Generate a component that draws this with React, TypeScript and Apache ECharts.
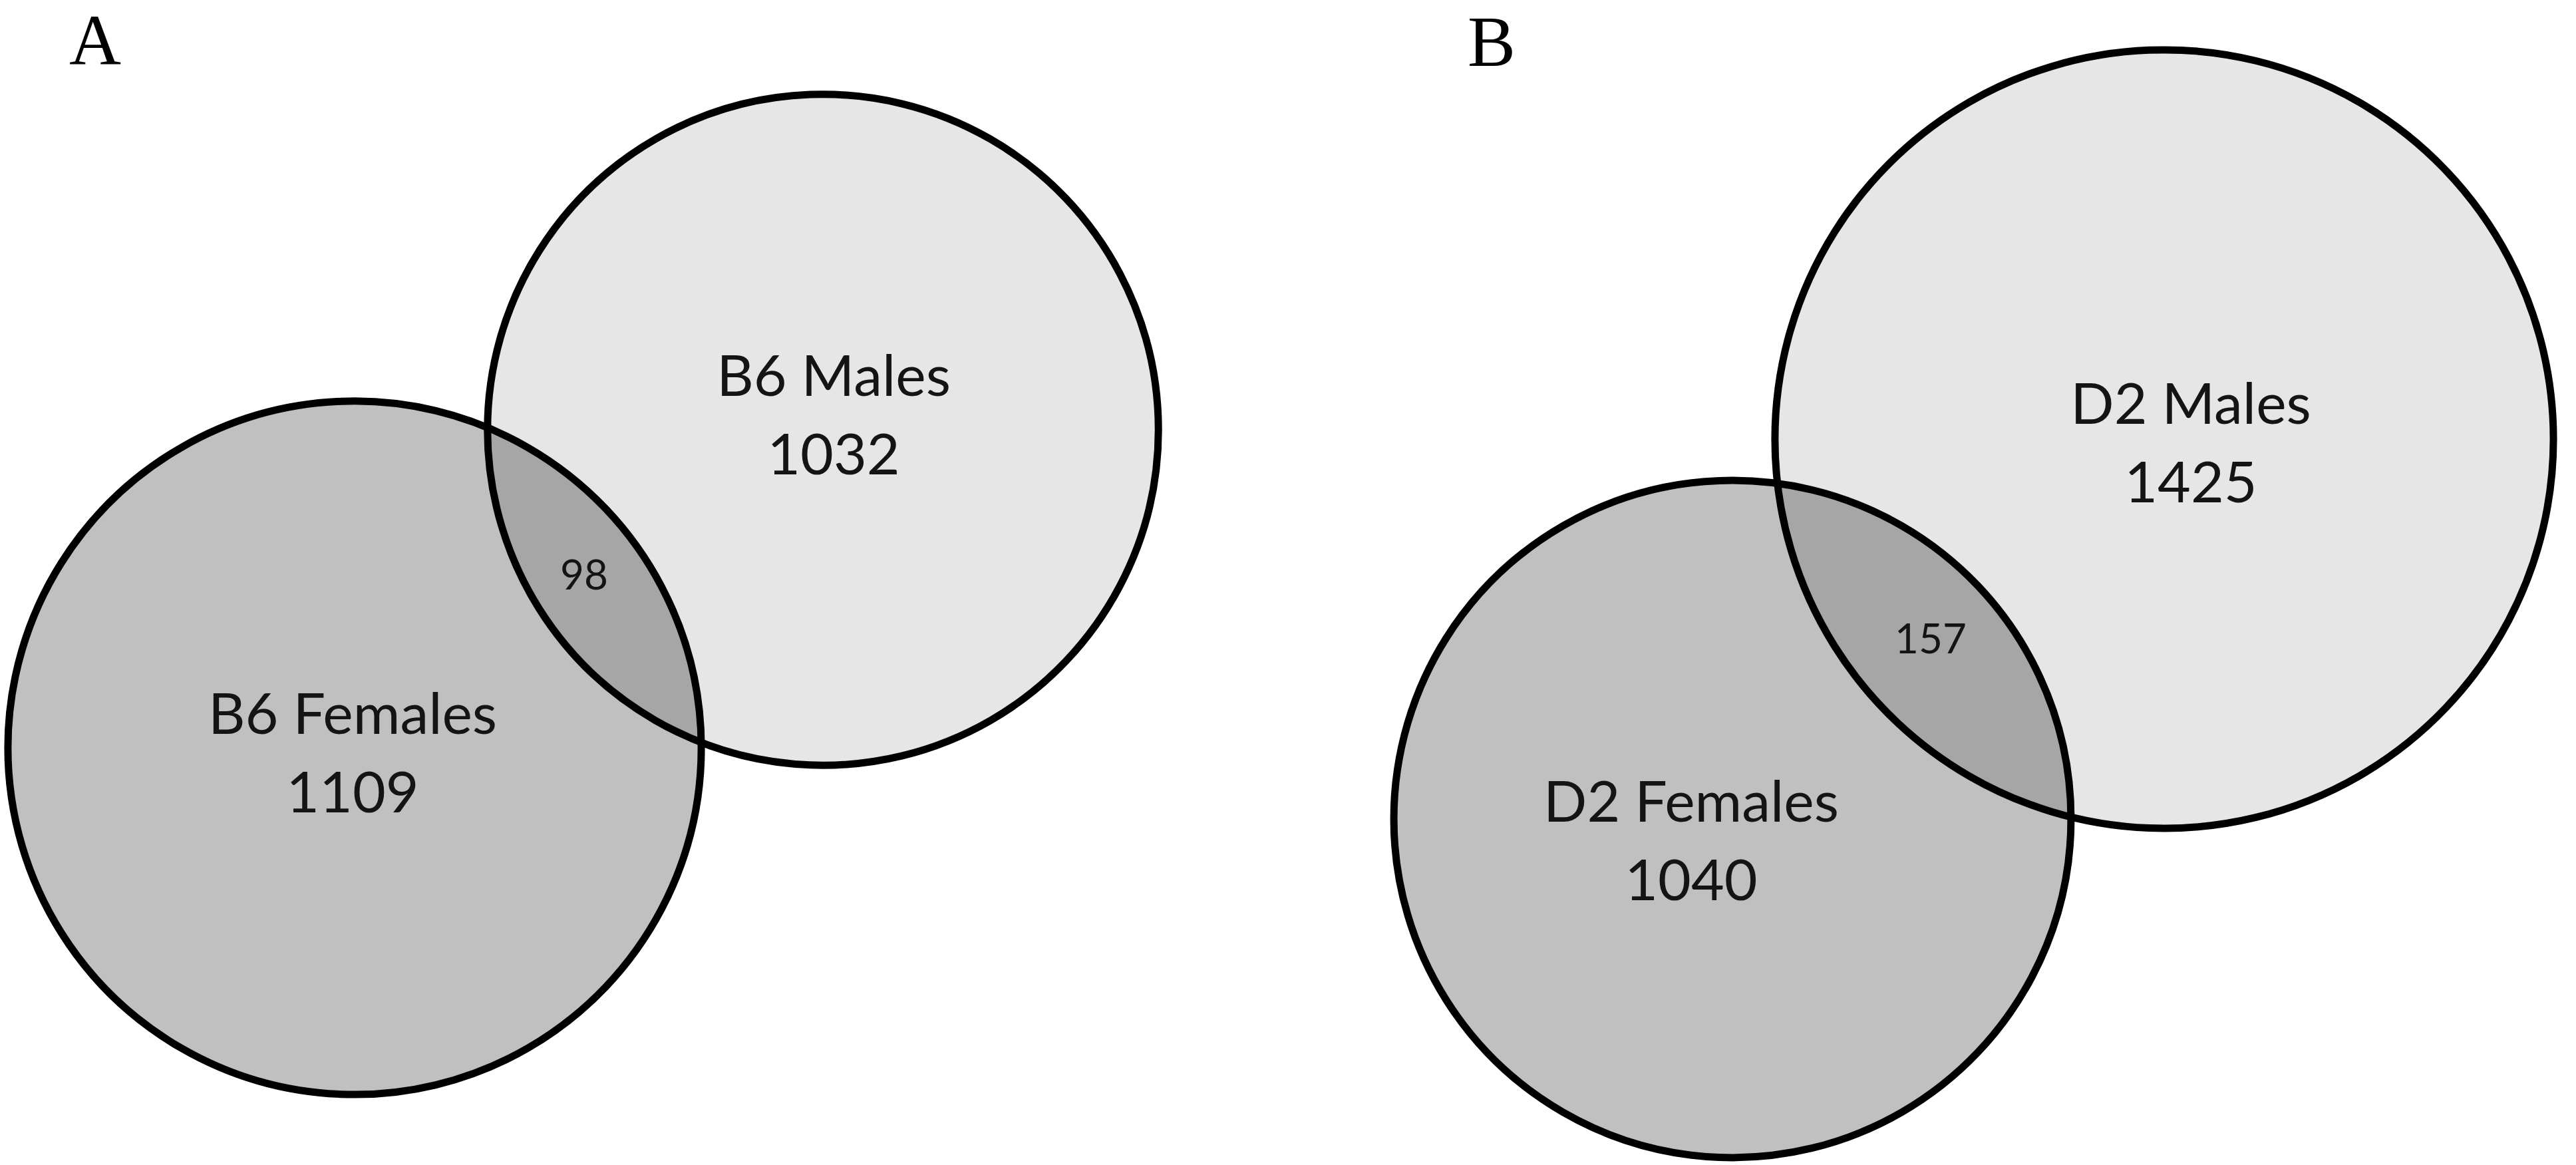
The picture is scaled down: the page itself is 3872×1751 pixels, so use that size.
import React, { useEffect, useRef } from "react";
import * as echarts from "echarts";

// ---- data ----
const panelLabels = ["A", "B"];
const femaleLabels = ["B6 Females", "D2 Females"];
const maleLabels = ["B6 Males", "D2 Males"];
const femaleOnly = [1109, 1040];
const maleOnly = [1032, 1425];
const shared = [98, 157];

// ---- layout (pixels) ----
const W = 3872;
const H = 1751;
const radiusScale = [15.0, 14.71];
const femaleCenters = [
  [533, 1124],
  [2604, 1231],
];
const maleCenters = [
  [1237, 646],
  [3253, 660],
];
const femaleTextPos = [
  [530, 1069],
  [2542, 1201],
];
const maleTextPos = [
  [1253, 561],
  [3293, 603],
];
const sharedTextPos = [
  [878, 862],
  [2902, 958],
];
const panelLabelPos = [
  [104, 60],
  [2206, 62],
];
const lineGap = 118;

const MALE_FILL = "#e6e6e6";
const FEMALE_FILL = "#c0c0c0";
const SHARED_FILL = "#a6a6a6";
const STROKE = "#000000";
const TEXT = "#141414";
const STROKE_W = 11;

let registered = false;
function registerLens() {
  if (registered) return;
  registered = true;
  const Lens = (echarts.graphic as any).extendShape({
    type: "lens",
    shape: { x1: 0, y1: 0, r1: 0, x2: 0, y2: 0, r2: 0 },
    buildPath(ctx: any, s: any) {
      const dx = s.x2 - s.x1;
      const dy = s.y2 - s.y1;
      const d = Math.sqrt(dx * dx + dy * dy);
      const a = (d * d + s.r1 * s.r1 - s.r2 * s.r2) / (2 * d);
      const b = d - a;
      const t1 = Math.acos(Math.max(-1, Math.min(1, a / s.r1)));
      const t2 = Math.acos(Math.max(-1, Math.min(1, b / s.r2)));
      const base = Math.atan2(dy, dx);
      const base2 = base + Math.PI;
      ctx.moveTo(
        s.x1 + s.r1 * Math.cos(base - t1),
        s.y1 + s.r1 * Math.sin(base - t1)
      );
      ctx.arc(s.x1, s.y1, s.r1, base - t1, base + t1, false);
      ctx.arc(s.x2, s.y2, s.r2, base2 - t2, base2 + t2, false);
      ctx.closePath();
    },
  });
  (echarts.graphic as any).registerShape("lens", Lens);
}

function buildGraphics() {
  const els: any[] = [];
  for (let i = 0; i < panelLabels.length; i++) {
    const rF = radiusScale[i] * Math.sqrt(femaleOnly[i] + shared[i]);
    const rM = radiusScale[i] * Math.sqrt(maleOnly[i] + shared[i]);
    const [fx, fy] = femaleCenters[i];
    const [mx, my] = maleCenters[i];

    els.push({
      type: "circle",
      shape: { cx: mx, cy: my, r: rM },
      style: { fill: MALE_FILL, stroke: null },
      z: 1,
    });
    els.push({
      type: "circle",
      shape: { cx: fx, cy: fy, r: rF },
      style: { fill: FEMALE_FILL, stroke: null },
      z: 2,
    });
    els.push({
      type: "lens",
      shape: { x1: fx, y1: fy, r1: rF, x2: mx, y2: my, r2: rM },
      style: { fill: SHARED_FILL, stroke: null },
      z: 3,
    });
    els.push({
      type: "circle",
      shape: { cx: mx, cy: my, r: rM },
      style: { fill: null, stroke: STROKE, lineWidth: STROKE_W },
      z: 4,
    });
    els.push({
      type: "circle",
      shape: { cx: fx, cy: fy, r: rF },
      style: { fill: null, stroke: STROKE, lineWidth: STROKE_W },
      z: 4,
    });

    const big = { fontFamily: "Lato", fontSize: 86, fill: TEXT, align: "center", verticalAlign: "middle" };
    const small = { fontFamily: "Lato", fontSize: 62, fill: TEXT, align: "center", verticalAlign: "middle" };

    els.push({ type: "text", x: maleTextPos[i][0], y: maleTextPos[i][1], style: { ...big, text: maleLabels[i] }, z: 5 });
    els.push({ type: "text", x: maleTextPos[i][0], y: maleTextPos[i][1] + lineGap, style: { ...big, text: String(maleOnly[i]) }, z: 5 });
    els.push({ type: "text", x: femaleTextPos[i][0], y: femaleTextPos[i][1], style: { ...big, text: femaleLabels[i] }, z: 5 });
    els.push({ type: "text", x: femaleTextPos[i][0], y: femaleTextPos[i][1] + lineGap, style: { ...big, text: String(femaleOnly[i]) }, z: 5 });
    els.push({ type: "text", x: sharedTextPos[i][0], y: sharedTextPos[i][1], style: { ...small, text: String(shared[i]) }, z: 5 });
    els.push({
      type: "text",
      x: panelLabelPos[i][0],
      y: panelLabelPos[i][1],
      style: {
        text: panelLabels[i],
        fontFamily: "Liberation Serif",
        fontSize: 108,
        fill: "#000",
        align: "left",
        verticalAlign: "middle",
      },
      z: 5,
    });
  }
  return els;
}

export default function App() {
  const ref = useRef<HTMLDivElement>(null);
  useEffect(() => {
    if (!ref.current) return;
    registerLens();
    const chart = echarts.init(ref.current, null, { renderer: "svg" });
    chart.setOption({
      animation: false,
      backgroundColor: "#ffffff",
      graphic: { elements: buildGraphics() },
    });
    return () => chart.dispose();
  }, []);
  return (
    <div
      ref={ref}
      style={{ position: "fixed", left: 0, top: 0, width: W, height: H, background: "#fff" }}
    />
  );
}
